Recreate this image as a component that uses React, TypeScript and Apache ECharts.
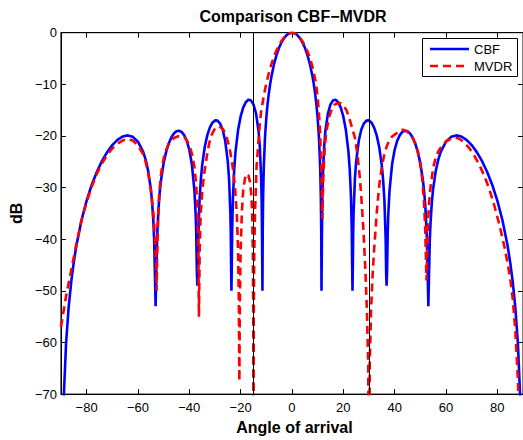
import React, { useEffect, useRef } from "react";
import * as echarts from "echarts";

// ---- data ----
const xTickValues = [-80, -60, -40, -20, 0, 20, 40, 60, 80];
const yTickValues = [-70, -60, -50, -40, -30, -20, -10, 0];
const interferenceAngles = [-15, 30];
const seriesNames = ["CBF", "MVDR"];
const titleText = "Comparison CBF\u2212MVDR";
const xAxisTitle = "Angle of arrival";
const yAxisTitle = "dB";

// CBF beam pattern [angle (deg), level (dB)]
const cbfCurve: [number, number][] = [
  [-90, -90], [-89, -71.7], [-88, -60.1], [-87, -53.2], [-86, -48.25], [-85, -44.45], [-84, -41.28],
  [-82, -36.32], [-80, -32.52], [-78, -29.45], [-76, -26.92], [-74, -24.83], [-72, -23.13], [-70, -21.77],
  [-68, -20.76], [-66, -20.12], [-64, -19.89], [-62, -20.17], [-60, -21.1], [-58, -23.04], [-57, -24.59],
  [-56, -26.81], [-55, -30.22], [-54.5, -32.79], [-54, -36.63], [-53.7, -40.1], [-53.4, -46.6], [-53.13, -53],
  [-52.85, -46.3], [-52.5, -39.3], [-52, -34.04], [-51.5, -30.85], [-51, -28.53], [-50, -25.26], [-49, -23.04],
  [-48, -21.45], [-47, -20.3], [-46, -19.53], [-45, -19.1], [-44, -18.99], [-43, -19.22], [-42, -19.84],
  [-41, -20.93], [-40, -22.67], [-39, -25.49], [-38, -30.6], [-37.5, -35.4], [-37.3, -38.7], [-37.05, -46.3],
  [-36.87, -49], [-36.7, -46.8], [-36.5, -40], [-36, -32.42], [-35.5, -28.46], [-35, -25.75], [-34, -22.19],
  [-33, -19.89], [-32, -18.37], [-31, -17.43], [-30, -16.99], [-29, -17.03], [-28, -17.59], [-27, -18.81],
  [-26, -20.99], [-25, -24.96], [-24.5, -28.46], [-24, -35.03], [-23.85, -38.6], [-23.7, -45.6], [-23.58, -50],
  [-23.45, -45.2], [-23.3, -38.5], [-23, -31.98], [-22.5, -26.47], [-22, -23.08], [-21, -18.86], [-20, -16.22],
  [-19, -14.51], [-18, -13.47], [-17, -13.0], [-16, -13.11], [-15, -13.9], [-14, -15.65], [-13, -19.14],
  [-12.5, -22.32], [-12, -28.26], [-11.8, -32.8], [-11.65, -40.1], [-11.5, -50], [-11.4, -38.5], [-11.25, -32.0],
  [-11, -26.24], [-10.5, -20.22], [-10, -16.52], [-9.5, -13.83], [-9, -11.7], [-8.5, -9.96], [-8, -8.48],
  [-7, -6.11], [-6, -4.29], [-5, -2.88], [-4, -1.8], [-3, -0.99], [-2, -0.43], [-1, -0.11],
  [0, 0],
  [1, -0.11], [2, -0.43], [3, -0.99], [4, -1.8], [5, -2.88], [6, -4.29], [7, -6.11], [8, -8.48],
  [8.5, -9.96], [9, -11.7], [9.5, -13.83], [10, -16.52], [10.5, -20.22], [11, -26.24], [11.25, -32.0],
  [11.4, -38.5], [11.5, -50], [11.65, -40.1], [11.8, -32.8], [12, -28.26], [12.5, -22.32], [13, -19.14],
  [14, -15.65], [15, -13.9], [16, -13.11], [17, -13.0], [18, -13.47], [19, -14.51], [20, -16.22],
  [21, -18.86], [22, -23.08], [22.5, -26.47], [23, -31.98], [23.3, -38.5], [23.45, -45.2], [23.58, -50],
  [23.7, -45.6], [23.85, -38.6], [24, -35.03], [24.5, -28.46], [25, -24.96], [26, -20.99], [27, -18.81],
  [28, -17.59], [29, -17.03], [30, -16.99], [31, -17.43], [32, -18.37], [33, -19.89], [34, -22.19],
  [35, -25.75], [35.5, -28.46], [36, -32.42], [36.5, -40], [36.7, -46.8], [36.87, -49], [37.05, -46.3],
  [37.3, -38.7], [37.5, -35.4], [38, -30.6], [39, -25.49], [40, -22.67], [41, -20.93], [42, -19.84],
  [43, -19.22], [44, -18.99], [45, -19.1], [46, -19.53], [47, -20.3], [48, -21.45], [49, -23.04],
  [50, -25.26], [51, -28.53], [51.5, -30.85], [52, -34.04], [52.5, -39.3], [52.85, -46.3], [53.13, -53],
  [53.4, -46.6], [53.7, -40.1], [54, -36.63], [54.5, -32.79], [55, -30.22], [56, -26.81], [57, -24.59],
  [58, -23.04], [60, -21.1], [62, -20.17], [64, -19.89], [66, -20.12], [68, -20.76], [70, -21.77],
  [72, -23.13], [74, -24.83], [76, -26.92], [78, -29.45], [80, -32.52], [82, -36.32], [84, -41.28],
  [85, -44.45], [86, -48.25], [87, -53.2], [88, -60.1], [89, -71.7], [90, -90],
];

// MVDR beam pattern [angle (deg), level (dB)]
const mvdrCurve: [number, number][] = [
  [-90, -57], [-89, -54], [-88, -51], [-87, -48.5], [-86, -46], [-85, -43.5], [-84, -41], [-82, -36.4],
  [-80, -32.8], [-78, -29.8], [-76, -27.3], [-74, -25.3], [-72, -23.7], [-70, -22.4], [-68, -21.5],
  [-66, -20.9], [-64, -20.6], [-62, -20.9], [-60, -21.8], [-58, -23.5], [-57, -25], [-56, -27.3],
  [-55, -30.5], [-54, -35], [-53.4, -39.5], [-53, -44], [-52.75, -50], [-52.5, -43], [-52.2, -37],
  [-51.8, -32], [-51.2, -28.2], [-50.5, -25.6], [-49.5, -23.3], [-48, -21.5], [-46, -20.4], [-44, -20.0],
  [-43, -20.0], [-42, -20.2], [-41, -20.8], [-40, -21.8], [-39, -23.4], [-38, -26], [-37.3, -29.5],
  [-36.8, -35], [-36.5, -42], [-36.25, -55], [-35.95, -42], [-35.6, -35.5], [-35, -31], [-34.2, -27.3],
  [-33.2, -24], [-32.3, -21.5], [-31.3, -19.8], [-30.3, -18.8], [-28.6, -18.1], [-27, -18.6], [-26, -19.5],
  [-25, -21], [-24, -23.2], [-23, -26.3], [-22.2, -30], [-21.5, -35], [-21, -42], [-20.7, -52],
  [-20.5, -67.5], [-20.3, -52], [-20, -42], [-19.5, -34.5], [-19, -30.5], [-18.3, -28.2], [-17.6, -27.3],
  [-17, -27.6], [-16.4, -28.8], [-15.9, -31], [-15.5, -35], [-15.25, -43], [-15.1, -55], [-15, -95],
  [-14.9, -55], [-14.7, -43], [-14.4, -35], [-13.8, -26], [-13.2, -22], [-12.5, -17.4], [-12, -15.2],
  [-11, -12.3], [-10, -9.8], [-9, -7.8], [-8, -6.1], [-7, -4.6], [-6, -3.4], [-5, -2.4], [-4, -1.55],
  [-3, -0.9], [-2, -0.4], [-1, -0.1],
  [0, 0],
  [1, -0.1], [2, -0.4], [3, -0.9], [4, -1.6], [5, -2.5], [6, -3.6], [7, -4.9], [8, -6.6], [9, -8.9],
  [9.6, -10.8], [10, -12.5], [10.5, -15.5], [11, -19.8], [11.4, -25.5], [11.65, -31], [11.85, -36],
  [12.05, -31], [12.3, -26.5], [12.7, -22.8], [13.2, -20], [13.7, -18.3], [14.5, -16.3], [15.5, -14.8],
  [16.5, -14], [17.5, -13.7], [18.7, -13.6], [20, -14], [21.3, -15.1], [22.6, -17], [23.5, -18.6],
  [24.5, -20.3], [25.5, -23.5], [26.4, -27.9], [27, -31.7], [27.8, -38], [28.6, -46], [29.2, -54],
  [29.7, -64], [30, -95], [30.3, -64], [30.8, -54], [31.4, -47], [32, -42], [33, -35], [34, -29.5],
  [35, -26], [36, -23.5], [37, -21.9], [38, -20.8], [39, -20.1], [40.4, -19.6], [42, -19], [43, -18.8],
  [44, -18.9], [45, -19.2], [46, -19.7], [47, -20.4], [48, -21.4], [49, -23], [50, -25.5], [50.8, -28.5],
  [51.4, -32.5], [51.9, -38], [52.2, -44], [52.4, -48], [52.6, -44], [52.9, -38], [53.4, -33], [54, -29.8],
  [55, -26.2], [56, -24.2], [57, -23], [58, -22.2], [60, -21.1], [62, -20.5], [63.5, -20.3], [65, -20.5],
  [67, -21.2], [69, -22.3], [71, -23.8], [73, -25.6], [75, -27.8], [77, -30.5], [79, -33.8], [81, -37.6],
  [83, -42], [85, -47.5], [86, -51.5], [87, -57.5], [88, -67], [88.5, -75], [89, -85],
];

const FONT = "'Liberation Sans', Arial, Helvetica, sans-serif";
const BLUE = "#0000ff";
const RED = "#ff0000";

const fmtMinus = (v: number | string) => String(v).replace("-", "\u2212");

export default function App() {
  const ref = useRef<HTMLDivElement>(null);

  useEffect(() => {
    if (!ref.current) return;
    const chart = echarts.init(ref.current, undefined, { renderer: "svg" });

    const axisLine = { show: true, onZero: false, lineStyle: { color: "#000", width: 1 } };
    const tickStyle = { show: true, inside: true, length: 5, lineStyle: { color: "#000", width: 1 } };

    chart.setOption({
      animation: false,
      backgroundColor: "#fff",
      textStyle: { fontFamily: FONT },
      title: {
        text: titleText,
        left: 199.5,
        top: 8,
        padding: 0,
        textStyle: { fontFamily: FONT, fontSize: 16, fontWeight: "bold", color: "#000" },
      },
      grid: {
        left: 56.6,
        top: 32.7,
        right: -3,
        bottom: 38.3,
        show: true,
        borderColor: "#000",
        borderWidth: 1,
        backgroundColor: "transparent",
        containLabel: false,
      },
      xAxis: [
        {
          type: "value",
          min: -90,
          max: 90,
          position: "bottom",
          name: xAxisTitle,
          nameLocation: "middle",
          nameGap: 21,
          nameTextStyle: {
            fontFamily: FONT,
            fontSize: 16,
            fontWeight: "bold",
            color: "#000",
            padding: [0, 0, 0, 5],
          },
          axisLine,
          axisTick: { ...tickStyle, customValues: xTickValues },
          axisLabel: {
            customValues: xTickValues,
            formatter: fmtMinus,
            margin: 7,
            fontFamily: FONT,
            fontSize: 13,
            color: "#000",
          },
          splitLine: { show: false },
        },
        {
          type: "value",
          min: -90,
          max: 90,
          position: "top",
          axisLine,
          axisTick: { ...tickStyle, customValues: xTickValues },
          axisLabel: { show: false, customValues: xTickValues },
          splitLine: { show: false },
        },
      ],
      yAxis: [
        {
          type: "value",
          min: -70,
          max: 0,
          interval: 10,
          position: "left",
          name: yAxisTitle,
          nameLocation: "middle",
          nameGap: 34,
          nameRotate: 90,
          nameTextStyle: { fontFamily: FONT, fontSize: 16, fontWeight: "bold", color: "#000" },
          axisLine,
          axisTick: { ...tickStyle, customValues: yTickValues },
          axisLabel: {
            customValues: yTickValues,
            formatter: fmtMinus,
            margin: 4,
            fontFamily: FONT,
            fontSize: 13,
            color: "#000",
          },
          splitLine: { show: false },
        },
        {
          type: "value",
          min: -70,
          max: 0,
          interval: 10,
          position: "right",
          axisLine,
          axisTick: { ...tickStyle, customValues: yTickValues },
          axisLabel: { show: false },
          splitLine: { show: false },
        },
      ],
      series: [
        {
          name: seriesNames[0],
          type: "line",
          data: cbfCurve,
          xAxisIndex: 0,
          yAxisIndex: 0,
          symbol: "none",
          clip: true,
          smooth: false,
          lineStyle: { color: BLUE, width: 2.6 },
          itemStyle: { color: BLUE },
          emphasis: { disabled: true },
          z: 2,
        },
        {
          name: seriesNames[1],
          type: "line",
          data: mvdrCurve,
          xAxisIndex: 0,
          yAxisIndex: 0,
          symbol: "none",
          clip: true,
          smooth: false,
          lineStyle: { color: RED, width: 2.6, type: [8, 5] },
          itemStyle: { color: RED },
          emphasis: { disabled: true },
          z: 3,
          markLine: {
            silent: true,
            symbol: ["none", "none"],
            label: { show: false },
            lineStyle: { color: "#000", width: 1, type: "solid" },
            emphasis: { disabled: true },
            data: interferenceAngles.map((a) => ({ xAxis: a })),
          },
        },
      ],
      graphic: [
        {
          type: "group",
          z: 100,
          children: [
            {
              type: "rect",
              shape: { x: 422.5, y: 38.5, width: 95, height: 38 },
              style: { fill: "#fff", stroke: "#000", lineWidth: 1 },
            },
            {
              type: "line",
              shape: { x1: 430, y1: 49, x2: 469, y2: 49 },
              style: { stroke: BLUE, lineWidth: 2.6 },
            },
            {
              type: "text",
              x: 474,
              y: 49,
              style: {
                text: seriesNames[0],
                fontFamily: FONT,
                fontSize: 13,
                fill: "#000",
                verticalAlign: "middle",
                align: "left",
              },
            },
            {
              type: "line",
              shape: { x1: 430, y1: 66, x2: 469, y2: 66 },
              style: { stroke: RED, lineWidth: 2.6, lineDash: [8, 5] },
            },
            {
              type: "text",
              x: 474,
              y: 66,
              style: {
                text: seriesNames[1],
                fontFamily: FONT,
                fontSize: 13,
                fill: "#000",
                verticalAlign: "middle",
                align: "left",
              },
            },
          ],
        },
      ],
    });

    return () => {
      chart.dispose();
    };
  }, []);

  return (
    <div
      ref={ref}
      style={{ position: "absolute", left: 0, top: 0, width: 523, height: 440, background: "#fff" }}
    />
  );
}
